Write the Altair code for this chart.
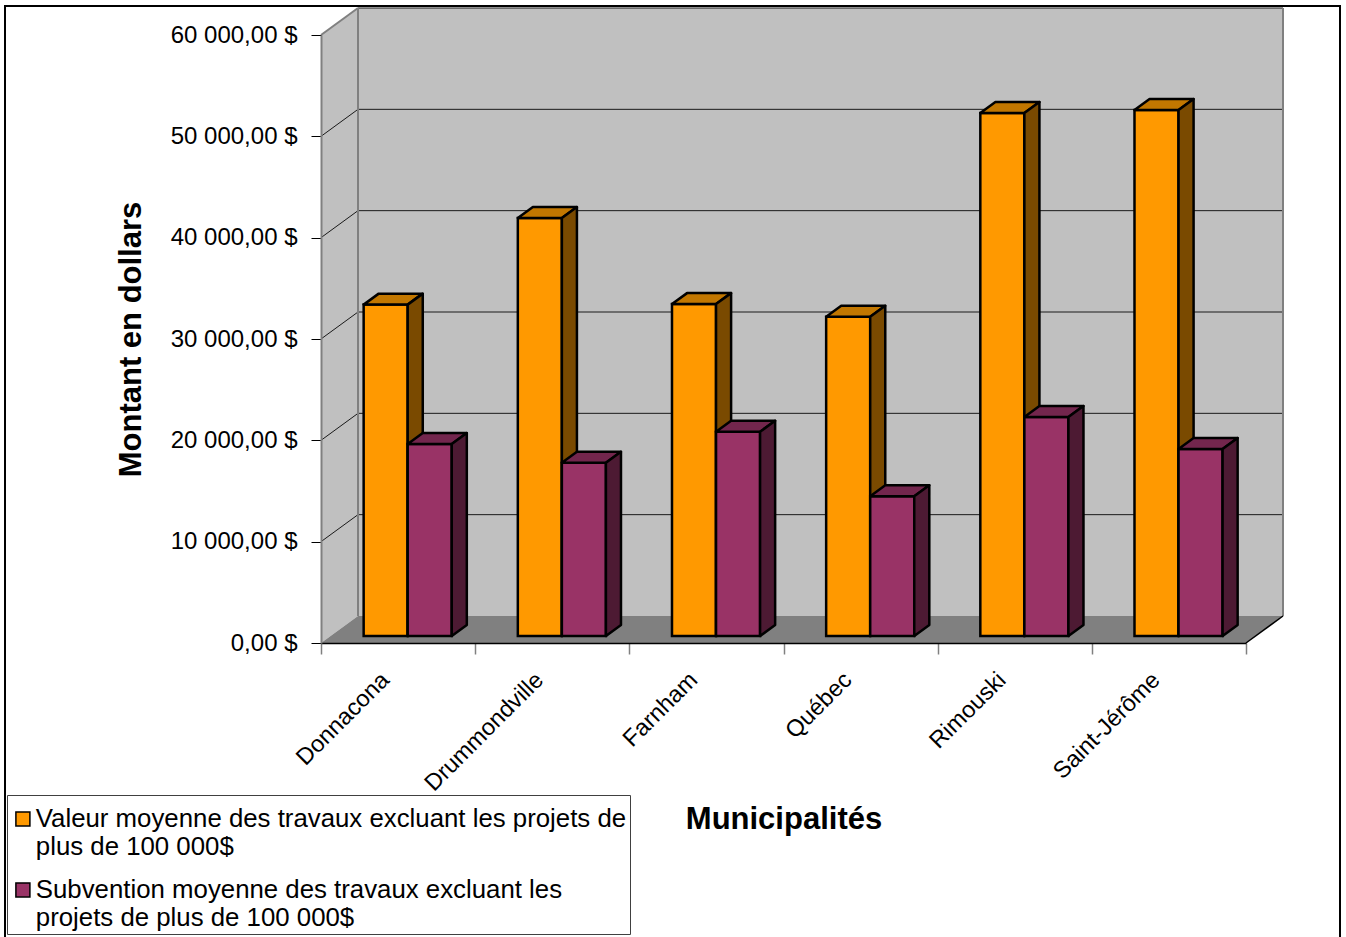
import altair as alt
import pandas as pd

# ---------------- data ----------------
CATEGORIES = ["Donnacona", "Drummondville", "Farnham", "Québec", "Rimouski", "Saint-Jérôme"]
VALEUR = [32700, 41250, 32750, 31500, 51600, 51900]
SUBVENTION = [18950, 17100, 20150, 13800, 21600, 18450]
SERIES = [
    "Valeur moyenne des travaux excluant les projets de plus de 100 000$",
    "Subvention moyenne des travaux excluant les projets de plus de 100 000$",
]
LEGEND_LINES = [
    ["Valeur moyenne des travaux excluant les projets de", "plus de 100 000$"],
    ["Subvention moyenne des travaux excluant les", "projets de plus de 100 000$"],
]
Y_TICKS = [0, 10000, 20000, 30000, 40000, 50000, 60000]
Y_MAX = 60000

# ---------------- style ----------------
FRONT = ["#ff9900", "#993366"]
TOP = ["#c27700", "#73264d"]
SIDE = ["#7a4a00", "#4d1a33"]
WALL = "#c0c0c0"
FLOOR = "#808080"
EDGE = "#808080"
FONT = "Liberation Sans"

PLOT_W, PLOT_H = 925, 608
N = len(CATEGORIES)
DEPTH_PX = (37, 27)                 # oblique depth of the box, in pixels
DX = DEPTH_PX[0] / PLOT_W * N       # same depth in data units
DY = DEPTH_PX[1] / PLOT_H * Y_MAX
D0, D1 = 0.26, 0.667                # front / back of the bars in the depth
BAR_W = 1 / 3.5                     # gap width 150 %

# ---------------- derived tables ----------------
front_rows, top_rows, side_rows = [], [], []
for s, vals in enumerate([VALEUR, SUBVENTION]):
    for i, v in enumerate(vals):
        xl = i + 0.5 + (s - 1) * BAR_W
        xr = xl + BAR_W
        bid = f"{s}-{i}"
        front_rows.append(dict(series=SERIES[s], s=s, x=xl + D0 * DX, x2=xr + D0 * DX,
                               y=D0 * DY, y2=v + D0 * DY))
        for d in (D0, D1):
            top_rows.append(dict(s=s, bid=bid, y=v + d * DY, x=xl + d * DX, x2=xr + d * DX))
            side_rows.append(dict(s=s, bid=bid, x=xr + d * DX, y=d * DY, y2=v + d * DY))
front_df = pd.DataFrame(front_rows)
top_df = pd.DataFrame(top_rows)
side_df = pd.DataFrame(side_rows)

wall_df = pd.DataFrame([dict(x=DX, x2=N + DX, y=DY, y2=Y_MAX + DY)])
side_wall_df = pd.DataFrame([dict(x=0, y=0, y2=Y_MAX), dict(x=DX, y=DY, y2=Y_MAX + DY)])
floor_df = pd.DataFrame([dict(y=0, x=0, x2=N), dict(y=DY, x=DX, x2=N + DX)])
back_grid_df = pd.DataFrame([dict(x=DX, x2=N + DX, y=t + DY, y2=t + DY) for t in Y_TICKS[1:]])
side_grid_df = pd.DataFrame([dict(x=0, x2=DX, y=t, y2=t + DY) for t in Y_TICKS[1:-1]])
gray_edges_df = pd.DataFrame([
    dict(x=DX, x2=DX, y=DY, y2=Y_MAX + DY),
    dict(x=0, x2=DX, y=Y_MAX, y2=Y_MAX + DY),
    dict(x=N + DX, x2=N + DX, y=DY, y2=Y_MAX + DY),
])
floor_edge_df = pd.DataFrame([dict(x=N, x2=N + DX, y=0, y2=DY)])
frame_df = pd.DataFrame([dict(k=0)])

# ---------------- scales / axes ----------------
XS = alt.Scale(domain=[0, N], nice=False, zero=False)
YS = alt.Scale(domain=[0, Y_MAX], nice=False)

names_js = "[" + ",".join("'" + c + "'" for c in CATEGORIES) + "]"
X_AXIS = alt.Axis(
    values=[k / 2 for k in range(0, 2 * N + 1)],
    labelExpr=f"datum.value % 1 == 0 ? '' : {names_js}[floor(datum.value)]",
    labelAngle=-45, labelAlign="right", labelBaseline="middle",
    labelFontSize=23.5, labelFont=FONT, labelColor="black", labelPadding=22, labelOffset=-13,
    labelOverlap=False, labelFlush=False, labelBound=False,
    tickSize=11, tickColor=EDGE, tickWidth=1.5,
    tickOpacity={"condition": {"test": "datum.value % 1 != 0", "value": 0}, "value": 1},
    domainColor="black", domainWidth=1.5, grid=False,
    title="Municipalités", titleFontSize=31, titleFontWeight="bold", titleFont=FONT,
    titleColor="black", titleY=176, titleBaseline="middle", zindex=1,
)
Y_AXIS = alt.Axis(
    values=Y_TICKS,
    labelExpr="replace(replace(format(datum.value, ',.2f'), ',', ' '), '.', ',') + ' $'",
    labelFontSize=24, labelFont=FONT, labelColor="black", labelPadding=14,
    tickSize=10, tickColor="black", tickWidth=1,
    domainColor=EDGE, domainWidth=2, grid=False,
    title="Montant en dollars", titleFontSize=31, titleFontWeight="bold", titleFont=FONT,
    titleColor="black", titleAngle=270, titleX=-190, titleY=PLOT_H / 2,
    titleAlign="center", titleBaseline="middle", zindex=1,
)


def X(f="x"):
    return alt.X(f"{f}:Q", scale=XS, axis=X_AXIS, stack=None)


def Y(f="y"):
    return alt.Y(f"{f}:Q", scale=YS, axis=Y_AXIS, stack=None)


layers = []

# back wall
layers.append(alt.Chart(wall_df).mark_rect(fill=WALL).encode(
    x=X(), x2="x2:Q", y=Y(), y2="y2:Q"))
# back wall gridlines
layers.append(alt.Chart(back_grid_df).mark_rule(color="#1a1a1a", strokeWidth=1).encode(
    x=X(), x2="x2:Q", y=Y(), y2="y2:Q"))
# side wall
layers.append(alt.Chart(side_wall_df).mark_area(fill=WALL, orient="vertical").encode(
    x=X(), y=Y(), y2="y2:Q"))
layers.append(alt.Chart(side_grid_df).mark_rule(color="#1a1a1a", strokeWidth=1).encode(
    x=X(), x2="x2:Q", y=Y(), y2="y2:Q"))
layers.append(alt.Chart(gray_edges_df).mark_rule(color=EDGE, strokeWidth=2).encode(
    x=X(), x2="x2:Q", y=Y(), y2="y2:Q"))
# floor
layers.append(alt.Chart(floor_df).mark_area(fill=FLOOR, orient="horizontal").encode(
    y=Y(), x=X(), x2="x2:Q"))
layers.append(alt.Chart(floor_edge_df).mark_rule(color="black", strokeWidth=1.5).encode(
    x=X(), x2="x2:Q", y=Y(), y2="y2:Q"))

color_scale = alt.Scale(domain=SERIES, range=FRONT)
legend_expr = (
    f"datum.label == '{SERIES[0]}' ? ['{LEGEND_LINES[0][0]}', '{LEGEND_LINES[0][1]}']"
    f" : ['{LEGEND_LINES[1][0]}', '{LEGEND_LINES[1][1]}']"
)
LEGEND = alt.Legend(
    orient="none", legendX=7 - 321, legendY=795 - 35,
    title=" ", titleFontSize=2, titlePadding=6,
    labelExpr=legend_expr, labelFontSize=25.8, labelFont=FONT, labelColor="black",
    labelLimit=900, labelOffset=0, labelBaseline="middle",
    symbolType="square", symbolSize=196, symbolStrokeColor="black", symbolStrokeWidth=1.5,
    symbolOpacity=1, rowPadding=16, padding=3, strokeColor="#404040", fillColor="white",
    direction="vertical",
)

for s in range(2):
    layers.append(alt.Chart(front_df).transform_filter(f"datum.s == {s}").mark_rect(
        stroke="black", strokeWidth=2.5, opacity=1).encode(
        x=X(), x2="x2:Q", y=Y(), y2="y2:Q",
        color=alt.Color("series:N", scale=color_scale, legend=LEGEND)))
    layers.append(alt.Chart(top_df).transform_filter(f"datum.s == {s}").mark_area(
        fill=TOP[s], stroke="black", strokeWidth=2.5, orient="horizontal", strokeJoin="round").encode(
        y=Y(), x=X(), x2="x2:Q", detail="bid:N"))
    layers.append(alt.Chart(side_df).transform_filter(f"datum.s == {s}").mark_area(
        fill=SIDE[s], stroke="black", strokeWidth=2.5, orient="vertical", strokeJoin="round").encode(
        x=X(), y=Y(), y2="y2:Q", detail="bid:N"))

# outer chart frame
layers.append(alt.Chart(frame_df).mark_rect(fillOpacity=0, stroke="black", strokeWidth=2).encode(
    x=alt.value(5 - 321), x2=alt.value(1340 - 321), y=alt.value(6 - 35), y2=alt.value(990)))

chart = alt.layer(*layers).properties(
    width=PLOT_W, height=PLOT_H,
    padding={"left": 321, "top": 35, "right": 1346 - 321 - PLOT_W, "bottom": 937 - 35 - PLOT_H},
    autosize=alt.AutoSizeParams(type="none"),
    background="white",
).configure_view(stroke=None).configure(font=FONT)

chart.save("out.html", embed_options={"renderer": "svg", "actions": False})
